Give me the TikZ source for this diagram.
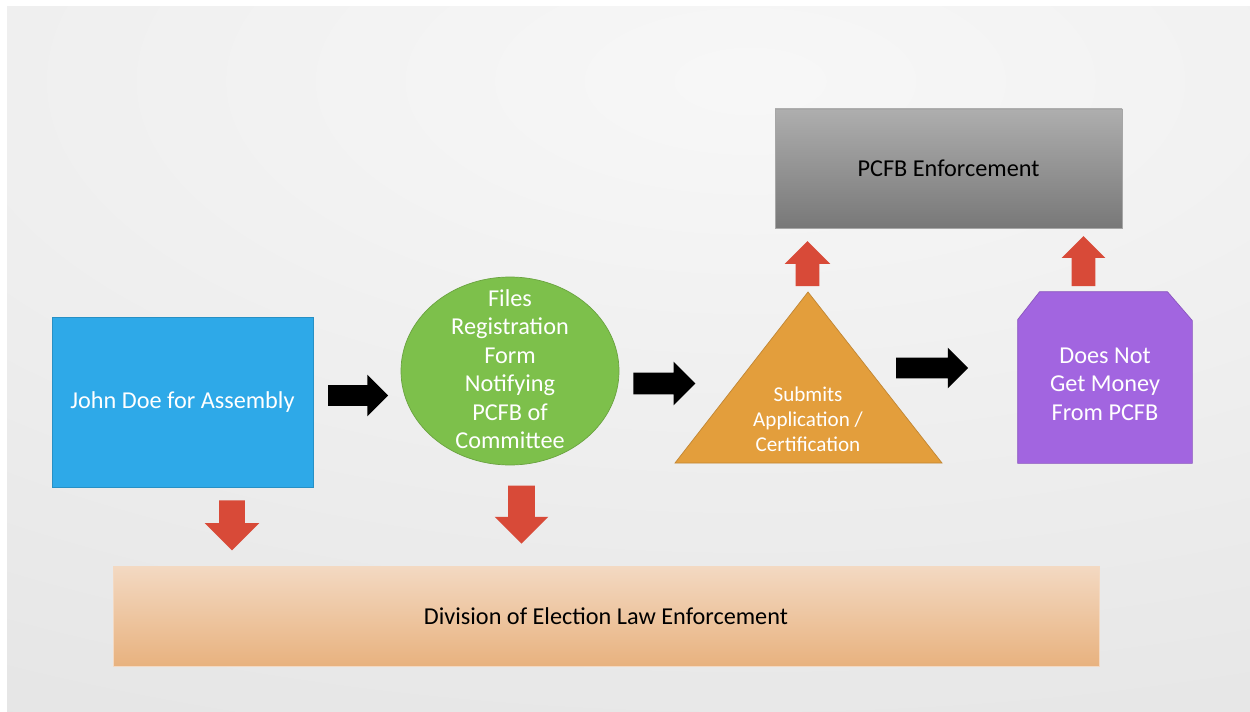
\documentclass[tikz,border=0pt]{standalone}
\usepackage{fontspec}
\setmainfont{Carlito}
\usetikzlibrary{shapes.arrows,shapes.geometric}

\definecolor{boxblue}{HTML}{2EA9E8}
\definecolor{boxgreen}{HTML}{7DC04B}
\definecolor{boxorange}{HTML}{E39E3C}
\definecolor{boxpurple}{HTML}{A265E0}
\definecolor{arrowred}{HTML}{D84A38}
\definecolor{greytop}{HTML}{AEAEAE}
\definecolor{greybot}{HTML}{787878}
\definecolor{peachtop}{HTML}{F3D9C2}
\definecolor{peachbot}{HTML}{E8B27F}

\tikzset{
  mytext/.style={font=\fontsize{13.8}{16.2}\selectfont, align=center},
  flow/.style={single arrow, fill=black, draw=none, inner sep=0pt,
    text depth=0pt, minimum width=0pt, single arrow tip angle=90},
  redflow/.style={flow, fill=arrowred}
}

\begin{document}
\begin{tikzpicture}
  \useasboundingbox (0,0) rectangle (25,14.22);
  % background
  \begin{scope}
    \clip (0.14,0) rectangle (25,14.08);
    \shade[inner color=white!97!black, outer color=white!83!black]
      (15,12.6) ellipse (64cm and 28.4cm);
  \end{scope}

  % main boxes
  \node (john) [mytext, fill=boxblue, draw=boxblue!85!black, text=white,
    minimum width=5.22cm, minimum height=3.4cm] at (3.65,6.18)
    {John Doe for Assembly};
  \node (files) [mytext, ellipse, fill=boxgreen, draw=boxgreen!85!black,
    text=white, inner sep=0pt, minimum width=4.36cm, minimum height=3.76cm]
    at (10.2,6.8) {};
  \node (filestext) [mytext, text=white] at (10.2,6.84)
    {Files\\Registration\\Form\\Notifying\\PCFB of\\Committee};
  % the triangle
  \filldraw[fill=boxorange, draw=boxorange!85!black]
    (13.5,4.96) -- (16.16,8.38) -- (18.84,4.96) -- cycle;
  \node (submit) [font=\fontsize{12}{14.2}\selectfont, align=center,
    text=white] at (16.16,5.84) {Submits\\Application /\\Certification};
  % snipped box
  \node (money) [inner sep=0pt, minimum width=3.48cm, minimum height=3.42cm]
    at (22.1,6.67) {};
  \filldraw[fill=boxpurple, draw=boxpurple!85!black]
    (money.south west) -- ([yshift=-0.56cm]money.north west)
    -- ([xshift=0.44cm]money.north west) -- ([xshift=-0.5cm]money.north east)
    -- ([yshift=-0.58cm]money.north east) -- (money.south east) -- cycle;
  \node (moneytext) [mytext, text=white] at (22.1,6.54)
    {Does Not\\Get Money\\From PCFB};
  \node (pcfb) [mytext, top color=greytop, bottom color=greybot,
    draw=gray!70, minimum width=6.94cm, minimum height=2.38cm]
    at (18.97,10.85) {PCFB Enforcement};
  \node (delec) [mytext, top color=peachtop, bottom color=peachbot,
    draw=peachtop, minimum width=19.72cm, minimum height=2cm]
    at (12.12,1.9) {Division of Election Law Enforcement};

  % black arrows
  \node (a1) [flow, text height=0.4cm, minimum height=1.2cm,
    single arrow head extend=0.21cm] at (7.06,6.31) {};
  \node (a2) [flow, text height=0.42cm, minimum height=1.24cm,
    single arrow head extend=0.22cm] at (13.18,6.55) {};
  \node (a3) [flow, text height=0.4cm, minimum height=1.44cm,
    single arrow head extend=0.2cm] at (18.54,6.86) {};
  % red arrows
  \node (r1) [redflow, rotate=-90, text height=0.5cm, minimum height=1cm,
    single arrow head extend=0.29cm] at (4.64,3.84) {};
  \node (r2) [redflow, rotate=-90, text height=0.52cm, minimum height=1.16cm,
    single arrow head extend=0.27cm] at (10.43,4.06) {};
  \node (r3) [redflow, rotate=90, text height=0.46cm, minimum height=0.9cm,
    single arrow head extend=0.22cm] at (16.15,8.83) {};
  \node (r4) [redflow, rotate=90, text height=0.46cm, minimum height=1cm,
    single arrow head extend=0.2cm] at (21.67,8.88) {};
\end{tikzpicture}
\end{document}
